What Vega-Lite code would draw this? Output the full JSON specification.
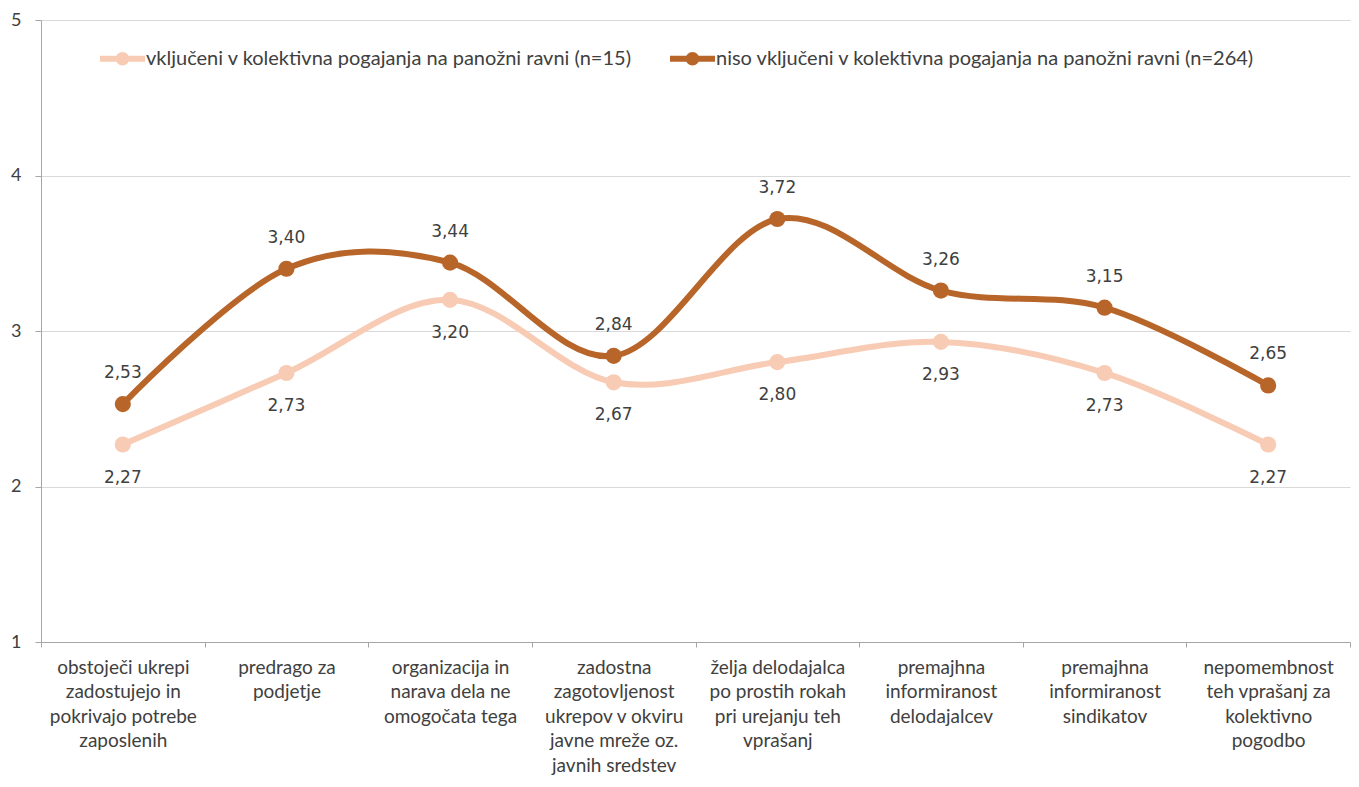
{
  "$schema": "https://vega.github.io/schema/vega-lite/v6.json",
  "width": 1309,
  "height": 622,
  "autosize": "none",
  "padding": {"left": 41, "top": 20, "right": 9, "bottom": 145},
  "background": "white",
  "config": {
    "locale": {"number": {"decimal": ",", "thousands": ".", "grouping": [3], "currency": ["", " €"]}},
    "view": {"stroke": null},
    "font": "Lato"
  },
  "data": {"values": [
    {"kategorija": "obstoječi ukrepi|zadostujejo in|pokrivajo potrebe|zaposlenih", "skupina": "vključeni v kolektivna pogajanja na panožni ravni (n=15)", "vrednost": 2.27},
    {"kategorija": "predrago za|podjetje", "skupina": "vključeni v kolektivna pogajanja na panožni ravni (n=15)", "vrednost": 2.73},
    {"kategorija": "organizacija in|narava dela ne|omogočata tega", "skupina": "vključeni v kolektivna pogajanja na panožni ravni (n=15)", "vrednost": 3.20},
    {"kategorija": "zadostna|zagotovljenost|ukrepov v okviru|javne mreže oz.|javnih sredstev", "skupina": "vključeni v kolektivna pogajanja na panožni ravni (n=15)", "vrednost": 2.67},
    {"kategorija": "želja delodajalca|po prostih rokah|pri urejanju teh|vprašanj", "skupina": "vključeni v kolektivna pogajanja na panožni ravni (n=15)", "vrednost": 2.80},
    {"kategorija": "premajhna|informiranost|delodajalcev", "skupina": "vključeni v kolektivna pogajanja na panožni ravni (n=15)", "vrednost": 2.93},
    {"kategorija": "premajhna|informiranost|sindikatov", "skupina": "vključeni v kolektivna pogajanja na panožni ravni (n=15)", "vrednost": 2.73},
    {"kategorija": "nepomembnost|teh vprašanj za|kolektivno|pogodbo", "skupina": "vključeni v kolektivna pogajanja na panožni ravni (n=15)", "vrednost": 2.27},
    {"kategorija": "obstoječi ukrepi|zadostujejo in|pokrivajo potrebe|zaposlenih", "skupina": "niso vključeni v kolektivna pogajanja na panožni ravni (n=264)", "vrednost": 2.53},
    {"kategorija": "predrago za|podjetje", "skupina": "niso vključeni v kolektivna pogajanja na panožni ravni (n=264)", "vrednost": 3.40},
    {"kategorija": "organizacija in|narava dela ne|omogočata tega", "skupina": "niso vključeni v kolektivna pogajanja na panožni ravni (n=264)", "vrednost": 3.44},
    {"kategorija": "zadostna|zagotovljenost|ukrepov v okviru|javne mreže oz.|javnih sredstev", "skupina": "niso vključeni v kolektivna pogajanja na panožni ravni (n=264)", "vrednost": 2.84},
    {"kategorija": "želja delodajalca|po prostih rokah|pri urejanju teh|vprašanj", "skupina": "niso vključeni v kolektivna pogajanja na panožni ravni (n=264)", "vrednost": 3.72},
    {"kategorija": "premajhna|informiranost|delodajalcev", "skupina": "niso vključeni v kolektivna pogajanja na panožni ravni (n=264)", "vrednost": 3.26},
    {"kategorija": "premajhna|informiranost|sindikatov", "skupina": "niso vključeni v kolektivna pogajanja na panožni ravni (n=264)", "vrednost": 3.15},
    {"kategorija": "nepomembnost|teh vprašanj za|kolektivno|pogodbo", "skupina": "niso vključeni v kolektivna pogajanja na panožni ravni (n=264)", "vrednost": 2.65}
  ]},
  "encoding": {
    "x": {
      "field": "kategorija", "type": "nominal", "sort": null,
      "scale": {"paddingInner": 0, "paddingOuter": 0},
      "axis": {
        "title": null, "labelAngle": 0, "tickBand": "extent",
        "labelExpr": "split(datum.label, '|')",
        "labelFontSize": 19, "labelColor": "#404040", "labelFont": "Lato",
        "labelLineHeight": 24.5, "labelPadding": 11, "labelLimit": 200,
        "domainColor": "#a6a6a6", "tickColor": "#a6a6a6", "tickSize": 5,
        "labelOverlap": false, "grid": false
      }
    },
    "y": {
      "field": "vrednost", "type": "quantitative",
      "scale": {"domain": [1, 5], "nice": false, "zero": false},
      "axis": {
        "title": null, "values": [1, 2, 3, 4, 5], "format": "d",
        "labelFontSize": 18, "labelColor": "#404040", "labelFont": "Lato",
        "labelPadding": 14,
        "domainColor": "#a6a6a6", "tickColor": "#a6a6a6", "tickSize": 6,
        "gridColor": "#d9d9d9", "grid": true
      }
    },
    "color": {
      "field": "skupina", "type": "nominal", "sort": null,
      "scale": {
        "domain": ["vključeni v kolektivna pogajanja na panožni ravni (n=15)", "niso vključeni v kolektivna pogajanja na panožni ravni (n=264)"],
        "range": ["#f8cbb4", "#b8652a"]
      },
      "legend": {
        "title": null, "orient": "none", "legendX": 59, "legendY": 16,
        "direction": "horizontal", "labelFontSize": 20, "labelColor": "#404040", "labelFont": "Lato",
        "symbolType": "M-1,-0.13L1,-0.13L1,0.13L-1,0.13Z M-0.3,0 A0.3,0.3 0 1,1 0.3,0 A0.3,0.3 0 1,1 -0.3,0 Z",
        "symbolSize": 2025, "symbolStrokeWidth": 0,
        "columnPadding": 38, "labelOffset": 1, "labelLimit": 700,
        "encode": {"symbols": {"update": {"fill": {"scale": "color", "field": "value"}, "stroke": {"value": "transparent"}, "opacity": {"value": 1}}}}
      }
    }
  },
  "layer": [
    {"mark": {"type": "line", "interpolate": "cardinal", "tension": 0, "strokeWidth": 6, "point": {"size": 260, "filled": true, "opacity": 1}}},
    {
      "transform": [{"filter": "datum.skupina == 'niso vključeni v kolektivna pogajanja na panožni ravni (n=264)'"}],
      "mark": {"type": "text", "dy": -31, "fontSize": 17, "font": "DejaVu Sans", "color": "#404040"},
      "encoding": {"text": {"field": "vrednost", "type": "quantitative", "format": ".2f"}, "color": {"value": "#404040"}}
    },
    {
      "transform": [{"filter": "datum.skupina == 'vključeni v kolektivna pogajanja na panožni ravni (n=15)'"}],
      "mark": {"type": "text", "dy": 33, "fontSize": 17, "font": "DejaVu Sans", "color": "#404040"},
      "encoding": {"text": {"field": "vrednost", "type": "quantitative", "format": ".2f"}, "color": {"value": "#404040"}}
    }
  ]
}
